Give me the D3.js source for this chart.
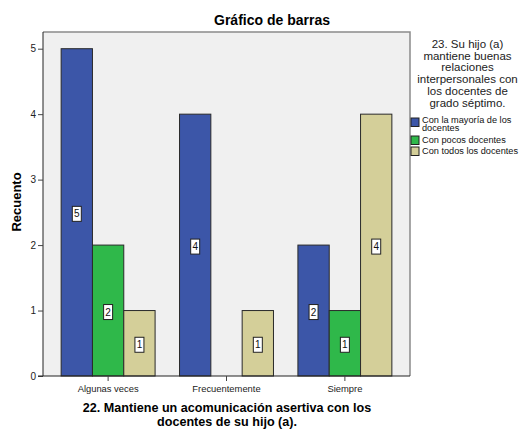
<!DOCTYPE html>
<html>
<head>
<meta charset="utf-8">
<script src="https://cdn.jsdelivr.net/npm/d3@7"></script>
<style>
  body { margin: 0; background: #fff; }
  text { font-family: "Liberation Sans", Arial, sans-serif; }
</style>
</head>
<body>
<div id="chart"></div>
<script>
// categories on the x axis
var categories = ["Algunas veces", "Frecuentemente", "Siempre"];
// legend series
var seriesNames = ["Con la mayoría de los docentes", "Con pocos docentes", "Con todos los docentes"];
var seriesColors = ["#3c56a8", "#2fb84a", "#d4cf99"];
// counts per series, in category order (null = no bar)
var mayoria = [5, 4, 2];
var pocos = [2, null, 1];
var todos = [1, 1, 4];
var yTicks = [0, 1, 2, 3, 4, 5];

var seriesValues = [mayoria, pocos, todos];

var svg = d3.select("#chart")
            .append("svg")
            .attr("width", 522)
            .attr("height", 429);

var plotLeft = 43, plotRight = 410, plotTop = 32, plotBottom = 376;

var x0 = d3.scaleBand()
           .domain(categories)
           .range([plotLeft, plotRight])
           .paddingInner(0)
           .paddingOuter(0.05);

var x1 = d3.scaleBand()
           .domain(d3.range(seriesNames.length))
           .range([0, x0.bandwidth()])
           .paddingInner(0)
           .paddingOuter(0.39);

var y = d3.scaleLinear().domain([0, 5]).range([plotBottom, 48.7]);

// plot background
svg.append("rect")
   .attr("x", plotLeft)
   .attr("y", plotTop)
   .attr("width", plotRight - plotLeft)
   .attr("height", plotBottom - plotTop)
   .attr("fill", "#f0f0f0")
   .attr("stroke", "none");

// top and right frame
svg.append("path")
   .attr("d", "M" + plotLeft + "," + plotTop + "H" + plotRight + "V" + plotBottom)
   .attr("fill", "none")
   .attr("stroke", "#8a8a8a")
   .attr("stroke-width", 1.5);

// bars
var rows = [];
categories.forEach(function(c, i){
  seriesValues.forEach(function(s, j){
    if (s[i] != null) rows.push({cat: c, s: j, v: s[i]});
  });
});

var bars = svg.append("g");
bars.selectAll("rect")
    .data(rows)
    .enter()
    .append("rect")
    .attr("x", function(d){ return x0(d.cat) + x1(d.s); })
    .attr("y", function(d){ return y(d.v); })
    .attr("width", x1.bandwidth())
    .attr("height", function(d){ return y(0) - y(d.v); })
    .attr("fill", function(d){ return seriesColors[d.s]; })
    .attr("stroke", "#2a2a2a")
    .attr("stroke-width", 1);

// value labels in little boxes
var labels = svg.append("g");
rows.forEach(function(d){
  var cx = x0(d.cat) + x1(d.s) + x1.bandwidth() / 2;
  var cy = (y(d.v) + y(0)) / 2 + 1.5;
  labels.append("rect")
        .attr("x", cx - 4.5)
        .attr("y", cy - 7.5)
        .attr("width", 9)
        .attr("height", 15)
        .attr("fill", "white")
        .attr("stroke", "#222")
        .attr("stroke-width", 1);
  labels.append("text")
        .attr("x", cx)
        .attr("y", cy + 3.5)
        .attr("text-anchor", "middle")
        .attr("font-size", "10px")
        .attr("fill", "#111")
        .text(d.v);
});

// y axis
var yAxis = svg.append("g")
   .attr("transform", "translate(" + plotLeft + ",0)")
   .call(d3.axisLeft(y).tickValues(yTicks).tickSize(5).tickPadding(2).tickFormat(d3.format("d")));
yAxis.select(".domain").attr("stroke", "#222").attr("d", "M0," + plotTop + "V" + plotBottom);
yAxis.selectAll("text").attr("font-size", "10px").attr("fill", "#222").style("font-family", "Liberation Sans, Arial, sans-serif");
yAxis.selectAll("line").attr("stroke", "#444");

// x axis
var xAxis = svg.append("g")
   .attr("transform", "translate(0," + plotBottom + ")")
   .call(d3.axisBottom(x0).tickSize(5).tickPadding(4));
xAxis.select(".domain").attr("stroke", "#222").attr("d", "M" + (plotLeft - 5) + ",0H" + plotRight);
xAxis.selectAll("text").attr("font-size", "9.4px").attr("fill", "#222").style("font-family", "Liberation Sans, Arial, sans-serif");
xAxis.selectAll("line").attr("stroke", "#444");

// title
svg.append("text")
   .attr("x", 272)
   .attr("y", 25)
   .attr("text-anchor", "middle")
   .attr("font-size", "14px")
   .attr("font-weight", "bold")
   .text("Gráfico de barras");

// y title
svg.append("text")
   .attr("transform", "translate(21,202) rotate(-90)")
   .attr("text-anchor", "middle")
   .attr("font-size", "13px")
   .attr("font-weight", "bold")
   .text("Recuento");

// x title
var xTitle = ["22. Mantiene un acomunicación asertiva con los", "docentes de su hijo (a)."];
xTitle.forEach(function(t, i){
  svg.append("text")
     .attr("x", 227)
     .attr("y", 411.5 + i * 14)
     .attr("text-anchor", "middle")
     .attr("font-size", "12.6px")
     .attr("font-weight", "bold")
     .text(t);
});

// legend title
var legendTitle = ["23. Su hijo (a)", "mantiene buenas", "relaciones", "interpersonales con", "los docentes de", "grado séptimo."];
legendTitle.forEach(function(t, i){
  svg.append("text")
     .attr("x", 467.5)
     .attr("y", 48 + i * 11.7)
     .attr("text-anchor", "middle")
     .attr("font-size", "11.5px")
     .attr("fill", "#222")
     .text(t);
});

// legend items
var legendRows = [
  {lines: ["Con la mayoría de los", "docentes"], top: 118, base: 122.5},
  {lines: ["Con pocos docentes"], top: 136, base: 143.3},
  {lines: ["Con todos los docentes"], top: 147, base: 154.3}
];
legendRows.forEach(function(r, i){
  svg.append("rect")
     .attr("x", 411)
     .attr("y", r.top)
     .attr("width", 8)
     .attr("height", 8.5)
     .attr("fill", seriesColors[i])
     .attr("stroke", "#222")
     .attr("stroke-width", 1);
  r.lines.forEach(function(t, k){
    svg.append("text")
       .attr("x", 422)
       .attr("y", r.base + k * 8.5)
       .attr("font-size", "9.2px")
       .attr("fill", "#111")
       .text(t);
  });
});
</script>
</body>
</html>
